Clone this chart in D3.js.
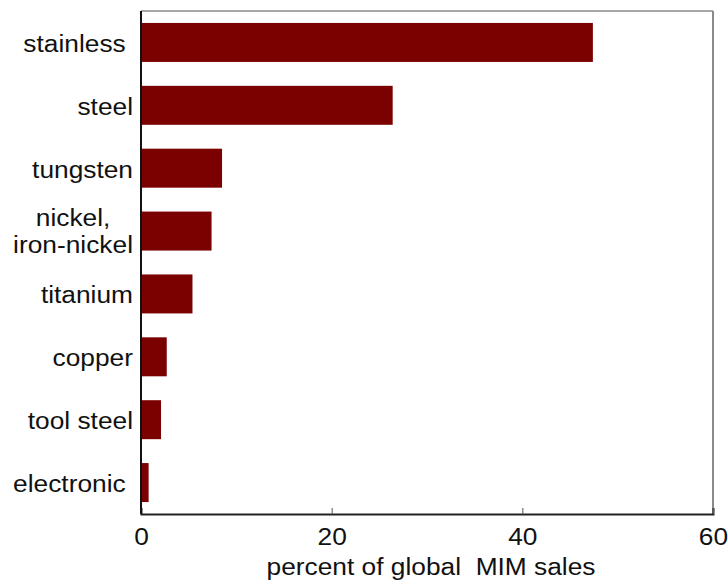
<!DOCTYPE html>
<html>
<head>
<meta charset="utf-8">
<script src="https://cdn.jsdelivr.net/npm/d3@7"></script>
<style>
  body { margin: 0; background: #fff; }
  text { font-family: "Liberation Sans", Arial, sans-serif; fill: #111; white-space: pre; }
</style>
</head>
<body>
<div id="chart"></div>
<script>
// categories (top to bottom) and their share of global MIM sales, %
var categories = ["stainless ", "steel", "tungsten", "nickel,\niron-nickel", "titanium", "copper", "tool steel", "electronic "];
var shares = [47.4, 26.4, 8.5, 7.4, 5.4, 2.7, 2.1, 0.8];
var xTicks = [0, 20, 40, 60];

var W = 728, H = 581;
var margin = {top: 11, right: 15, bottom: 67, left: 141};
var w = W - margin.left - margin.right,
    h = H - margin.top - margin.bottom;
var fontPx = 23.5;
var stretch = 1.12;   // the original lettering is a bit wider than Arial

var svg = d3.select("#chart").append("svg")
    .attr("width", W)
    .attr("height", H);

var g = svg.append("g")
    .attr("transform", "translate(" + margin.left + "," + margin.top + ")");

var x = d3.scaleLinear().domain([0, 60]).range([0, w]);
var y = d3.scaleBand().domain(categories).range([0, h]).paddingInner(0.38).paddingOuter(0.19);

// frame: grey top/right, dark left/bottom
g.append("line").attr("x1", 0).attr("x2", w).attr("y1", 0).attr("y2", 0)
    .style("stroke", "#8a8a8a").style("stroke-width", 1.5);
g.append("line").attr("x1", w).attr("x2", w).attr("y1", 0).attr("y2", h)
    .style("stroke", "#8a8a8a").style("stroke-width", 2);

// bars
g.selectAll(".bar")
    .data(categories)
    .enter().append("rect")
    .attr("class", "bar")
    .attr("x", x(0))
    .attr("y", function(d){ return y(d); })
    .attr("width", function(d, i){ return x(shares[i]) - x(0); })
    .attr("height", y.bandwidth())
    .style("fill", "#7b0000");

// x axis
var xAxis = g.append("g")
    .attr("transform", "translate(0," + h + ")")
    .call(d3.axisBottom(x).tickValues(xTicks).tickSize(-6).tickPadding(14).tickFormat(d3.format("d")));
xAxis.select(".domain").style("stroke", "#222").style("stroke-width", 2);
xAxis.selectAll(".tick line").style("stroke", "#555");
xAxis.selectAll(".tick text")
    .style("font-size", fontPx + "px").style("fill", "#111")
    .attr("transform", "scale(" + stretch + ",1)");

// left axis line
g.append("line").attr("x1", 0).attr("x2", 0).attr("y1", 0).attr("y2", h)
    .style("stroke", "#111").style("stroke-width", 2);

// category labels, right edge fixed at -8
var labelG = g.append("g")
    .attr("transform", "translate(-8,0) scale(" + stretch + ",1)");

labelG.selectAll(".cat")
    .data(categories)
    .enter().append("text")
    .attr("class", "cat")
    .style("font-size", fontPx + "px")
    .each(function(d){
        var t = d3.select(this);
        var lines = d.split("\n");
        var cy = y(d) + y.bandwidth() / 2;
        if (lines.length === 1) {
            t.attr("text-anchor", "end").attr("x", 0).attr("y", cy).attr("dy", "0.4em").text(d);
        } else {
            // centred two-line block
            t.attr("text-anchor", "middle");
            var spans = lines.map(function(l, k){
                return t.append("tspan").attr("y", cy + (k === 0 ? -5 : 22)).text(l);
            });
            var widest = d3.max(spans, function(s){ return s.node().getComputedTextLength(); });
            spans.forEach(function(s){ s.attr("x", -widest / 2); });
        }
    });

// axis title
svg.append("text")
    .attr("transform", "translate(" + (margin.left + w / 2 + 4) + "," + (H - 6) + ") scale(" + stretch + ",1)")
    .attr("text-anchor", "middle")
    .style("font-size", fontPx + "px")
    .text("percent of global  MIM sales");
</script>
</body>
</html>
